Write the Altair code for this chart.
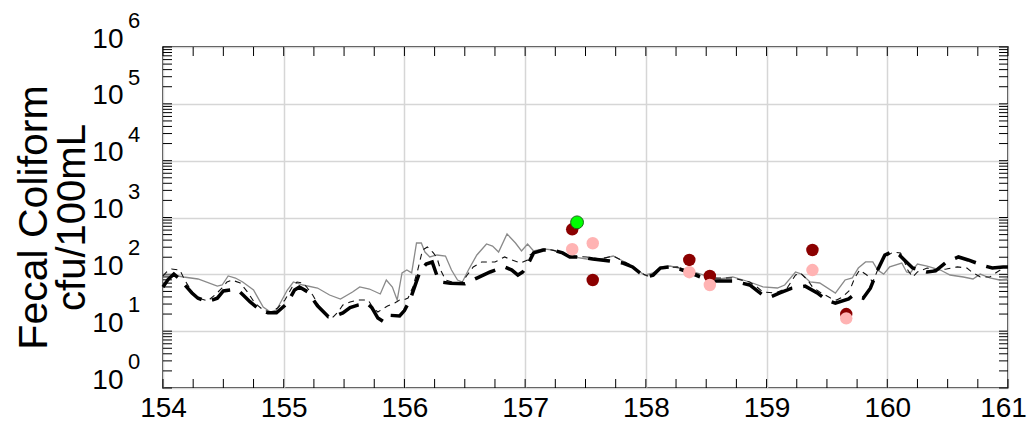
import altair as alt
import pandas as pd

FONT = "Liberation Sans"

# ---- model series (river km vs fecal coliform, cfu/100mL) ----
thick_km = [154.00,154.04,154.09,154.14,154.19,154.24,154.29,154.37,154.45,154.50,
            154.56,154.62,154.67,154.72,154.80,154.87,154.94,155.03,155.09,155.13,
            155.20,155.28,155.37,155.43,155.49,155.55,155.62,155.69,155.73,155.78,
            155.83,155.88,155.96,156.00,156.05,156.13,156.18,156.23,156.27,156.30,
            156.38,156.50,156.60,156.71,156.83,156.89,156.94,156.98,157.02,157.07,
            157.15,157.23,157.31,157.37,157.45,157.56,157.70,157.81,157.89,157.95,
            158.01,158.06,158.12,158.20,158.28,158.37,158.45,158.53,158.61,158.72,
            158.86,158.97,159.03,159.11,159.21,159.32,159.42,159.50,159.57,159.68,
            159.72,159.76,159.80,159.86,159.92,159.98,160.05,160.10,160.15,160.21,
            160.33,160.40,160.49,160.59,160.67,160.74,160.81,160.87,160.96,161.00]
thick_fc = [60,80,101,83,62,47,38,33,38,51,
            53,53,42,33,24,21,21,31,53,60,
            49,28,18,18.5,21,26,29,31,26,17,
            14.5,19,18.5,23,37,115,152,165,94,73,
            70,68,86,110,135,119,97,110,146,238,
            268,268,238,202,202,186,172,158,135,106,
            90,97,129,135,124,106,90,76,76,76,
            65,43,40,47,57,62,47,35,31,37,
            43,40,38,57,119,219,258,219,172,129,
            110,115,165,202,179,158,140,129,135,135]

thin_km = [154.00,154.03,154.07,154.14,154.18,154.24,154.29,154.37,154.43,154.49,
           154.53,154.57,154.64,154.70,154.76,154.83,154.89,154.95,155.01,155.07,
           155.11,155.16,155.19,155.24,155.30,155.36,155.41,155.45,155.49,155.55,
           155.61,155.66,155.70,155.74,155.78,155.82,155.86,155.92,155.96,155.99,
           156.03,156.07,156.11,156.15,156.19,156.24,156.27,156.30,156.34,156.42,
           156.48,156.52,156.57,156.64,156.71,156.75,156.83,156.89,156.96,157.02,
           157.04,157.08,157.18,157.29,157.37,157.51,157.62,157.73,157.81,157.89,
           157.95,158.01,158.06,158.12,158.26,158.39,158.56,158.72,158.86,158.92,
           158.97,159.07,159.17,159.24,159.28,159.34,159.38,159.44,159.53,159.58,
           159.63,159.69,159.73,159.77,159.83,159.88,159.92,159.98,160.05,160.11,
           160.13,160.17,160.21,160.25,160.33,160.41,160.49,160.58,160.66,160.70,
           160.77,160.85,160.91,160.98,161.00]
thin_fc = [93.5,110,124,119,79.5,48.9,38.3,34,43.3,57.5,
           73.3,79.5,70.4,48.9,31.3,23.6,21.7,25.6,35.3,59.9,
           73.3,70.4,59.9,43.3,25.6,17.8,17.8,21.7,28.9,32.6,
           35.3,35.3,35.3,25.6,21.7,24.6,27.7,31.3,35.3,35.3,
           38.3,59.9,119,268,303,238,194,119,79.5,70.4,
           73.3,97.3,135,165,165,165,202,179,158,179,
           219,247,280,247,210,202,186,210,172,140,
           110,93.5,101,129,135,106,86.2,86.2,73.3,59.9,
           48.9,46.9,57.5,97.3,106,79.5,59.9,48.9,38.3,35.3,
           39.9,53.0,86.2,119,97.3,73.3,119,202,247,238,
           194,119,89.8,110,129,119,124,135,129,110,
           89.8,89.8,110,135,135]

gray_km = [154.00,154.08,154.17,154.29,154.45,154.49,154.54,154.60,154.66,154.75,
           154.83,154.89,154.94,155.03,155.08,155.16,155.28,155.38,155.47,155.57,
           155.63,155.71,155.80,155.85,155.90,155.94,155.98,156.02,156.06,156.10,
           156.14,156.17,156.21,156.27,156.34,156.39,156.44,156.48,156.53,156.60,
           156.68,156.73,156.78,156.85,156.92,156.97,157.02,157.07,157.15,157.23,
           157.29,157.40,157.51,157.62,157.73,157.81,157.89,157.99,158.06,158.12,
           158.20,158.31,158.42,158.56,158.61,158.72,158.86,158.97,159.09,159.15,
           159.24,159.29,159.36,159.44,159.57,159.65,159.71,159.76,159.82,159.88,
           159.92,159.97,160.02,160.12,160.16,160.19,160.25,160.33,160.44,160.52,
           160.63,160.71,160.77,160.85,160.93,161.00]
gray_fc = [97.3,97.3,89.8,82.8,62.3,64.9,93.5,86.2,73.3,53.0,
           26.6,21.7,23.6,53.0,73.3,64.9,57.5,43.3,36.8,48.9,
           59.9,55.2,45.1,79.5,59.9,35.3,106,119,106,356,
           356,247,202,219,210,119,79.5,73.3,119,219,
           342,315,247,514,356,258,342,258,280,268,
           238,202,186,186,210,172,135,97.3,106,135,
           140,124,106,86.2,82.8,89.8,73.3,59.9,57.5,64.9,
           110,101,73.3,70.4,46.9,79.5,86.2,129,165,165,
           119,101,135,158,110,106,152,140,119,97.3,
           89.8,82.8,101,86.2,79.5,82.8]

# ---- observations ----
obs_km = [157.39, 157.56, 158.36, 158.53, 159.38, 159.66]
obs_dark_fc = [620, 79.5, 179, 93.5, 268, 20]
obs_pink_fc = [276, 352, 109, 64.9, 119, 16.8]
green_km = [157.43]
green_fc = [822]

# ---- axes ----
x_major = [154, 155, 156, 157, 158, 159, 160, 161]
x_minor = [154 + 0.25 * i for i in range(29)]
y_decades = [1, 10, 100, 1000, 10000, 100000, 1000000]
y_exponents = ["0", "1", "2", "3", "4", "5", "6"]
y_minor = [m * 10 ** e for e in range(6) for m in range(1, 10)] + [1000000]
y_title_lines = ["Fecal Coliform", "cfu/100mL"]


def df(km, fc):
    assert len(km) == len(fc)
    return pd.DataFrame({"km": km, "fc": fc})


W, H = 845, 341
TL = 9  # inward tick length

x_scale = alt.Scale(domain=[154, 161], nice=False, zero=False)
y_scale = alt.Scale(type="log", domain=[1, 1e6], nice=False)

x_enc = alt.X("km:Q", scale=x_scale, axis=alt.Axis(
    values=x_major, grid=True, gridColor="#d6d6d6", gridWidth=1.5,
    ticks=False, tickSize=0, domain=False, labelFontSize=28, labelFont=FONT,
    labelPadding=6, labelColor="black", labelFlush=False, title=None,
    labelOffset={"condition": {"test": "datum.value == 161", "value": -5},
                 "value": 0},
    format="d"))
y_enc = alt.Y("fc:Q", scale=y_scale, axis=alt.Axis(
    values=y_decades, grid=True, gridColor="#d6d6d6", gridWidth=1.5,
    ticks=False, tickSize=0, domain=False, labelExpr="'10'",
    labelFontSize=28, labelFont=FONT, labelAlign="right",
    labelBaseline="alphabetic", labelPadding=40, labelColor="black",
    labelFlush=False, title=None))

gray_line = alt.Chart(df(gray_km, gray_fc)).mark_line(
    color="#8a8a8a", strokeWidth=1.3).encode(x=x_enc, y=y_enc)
thin_line = alt.Chart(df(thin_km, thin_fc)).mark_line(
    color="#111111", strokeWidth=1.1, strokeDash=[6, 5]).encode(x=x_enc, y=y_enc)
thick_line = alt.Chart(df(thick_km, thick_fc)).mark_line(
    color="black", strokeWidth=3.5, strokeDash=[22, 11]).encode(x=x_enc, y=y_enc)

dark_pts = alt.Chart(df(obs_km, obs_dark_fc)).mark_circle(
    color="#8b0000", size=155, opacity=1).encode(x=x_enc, y=y_enc)
pink_pts = alt.Chart(df(obs_km, obs_pink_fc)).mark_circle(
    color="#ffb3b3", size=155, opacity=1).encode(x=x_enc, y=y_enc)
green_pts = alt.Chart(df(green_km, green_fc)).mark_point(
    shape="circle", filled=True, fill="#00ff00", stroke="#1a6b1a",
    strokeWidth=1, size=165, opacity=1).encode(x=x_enc, y=y_enc)

ytick = pd.DataFrame({"fc": y_minor})
xtick = pd.DataFrame({"km": x_minor})
left_ticks = alt.Chart(ytick).mark_rule(color="black", strokeWidth=1).encode(
    y=y_enc, x=alt.value(0), x2=alt.value(TL))
right_ticks = alt.Chart(ytick).mark_rule(color="black", strokeWidth=1).encode(
    y=y_enc, x=alt.value(W - TL), x2=alt.value(W))
bottom_ticks = alt.Chart(xtick).mark_rule(color="black", strokeWidth=1).encode(
    x=x_enc, y=alt.value(H - TL), y2=alt.value(H))
top_ticks = alt.Chart(xtick).mark_rule(color="black", strokeWidth=1).encode(
    x=x_enc, y=alt.value(0), y2=alt.value(TL))

exp_df = pd.DataFrame({"fc": y_decades, "exp": y_exponents})
exponents = alt.Chart(exp_df).mark_text(
    font=FONT, fontSize=22, align="left", baseline="alphabetic",
    color="black", dy=-19).encode(y=y_enc, x=alt.value(-35), text="exp:N")

title1 = alt.Chart(pd.DataFrame({"t": [y_title_lines[0]]})).mark_text(
    font=FONT, fontSize=41, angle=270, align="center", baseline="alphabetic",
    color="black").encode(text="t:N", x=alt.value(-116), y=alt.value(H / 2))
title2 = alt.Chart(pd.DataFrame({"t": [y_title_lines[1]]})).mark_text(
    font=FONT, fontSize=40, angle=270, align="center", baseline="alphabetic",
    color="black").encode(text="t:N", x=alt.value(-78), y=alt.value(H / 2))

chart = alt.layer(
    left_ticks, right_ticks, bottom_ticks, top_ticks,
    gray_line, thin_line, thick_line,
    dark_pts, pink_pts, green_pts, exponents, title1, title2,
).properties(
    width=W, height=H,
    autosize=alt.AutoSizeParams(type="none"),
    padding={"left": 155, "top": 39, "right": 19, "bottom": 36},
    background="white",
).configure_view(stroke="black", strokeWidth=1.5)

chart.save("out.html", embed_options={"renderer": "svg", "actions": False})
